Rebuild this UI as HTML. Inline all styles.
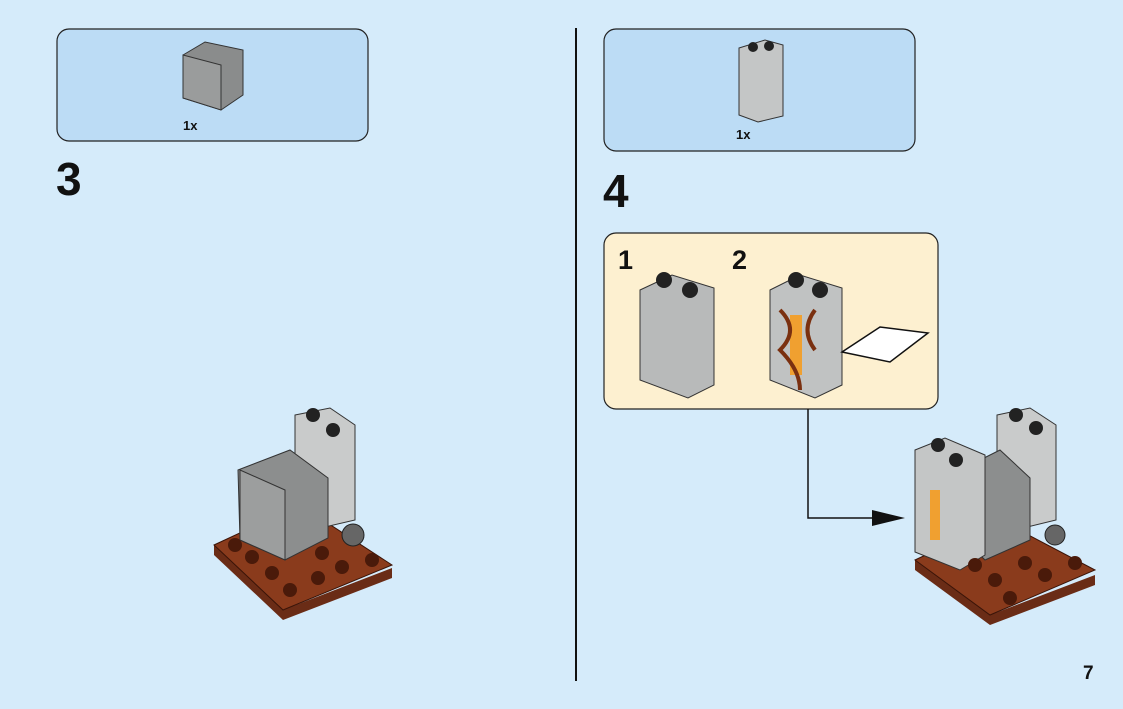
<!DOCTYPE html>
<html><head><meta charset="utf-8"><style>
html,body{margin:0;padding:0;width:1123px;height:709px;overflow:hidden;background:#d5ebfa;font-family:"Liberation Sans",sans-serif}
.t{position:absolute;font-weight:bold;color:#111}
</style></head><body>
<svg width="1123" height="709" style="position:absolute;left:0;top:0">
<rect x="57" y="29" width="311" height="112" rx="12" fill="#bcdcf5" stroke="#222" stroke-width="1.2"/>
<rect x="604" y="29" width="311" height="122" rx="12" fill="#bcdcf5" stroke="#222" stroke-width="1.2"/>
<rect x="604" y="233" width="334" height="176" rx="12" fill="#fdf0d0" stroke="#222" stroke-width="1.2"/>
<line x1="576" y1="28" x2="576" y2="681" stroke="#111" stroke-width="2"/>
<polyline points="808,409 808,518 890,518" fill="none" stroke="#111" stroke-width="1.5"/>
<polygon points="905,518 872,510 872,526" fill="#111"/>
<!-- part icon 1 -->
<polygon points="183,55 205,42 243,50 243,95 221,110 183,98" fill="#8a8c8c" stroke="#333"/>
<polygon points="183,55 221,65 221,110 183,98" fill="#9a9c9c" stroke="#333"/>
<!-- part icon 2 -->
<polygon points="739,48 765,40 783,45 783,116 758,122 739,115" fill="#c4c6c6" stroke="#333"/>
<circle cx="753" cy="47" r="5" fill="#222"/><circle cx="769" cy="46" r="5" fill="#222"/>
<!-- step3 model -->
<polygon points="214,545 283,610 392,568 392,578 283,620 214,555" fill="#6a2c16"/>
<polygon points="214,545 300,505 392,565 283,610" fill="#8a3b1c" stroke="#3a1408"/>
<polygon points="295,415 330,408 355,425 355,520 312,530 295,520" fill="#c9cbcb" stroke="#333"/>
<circle cx="313" cy="415" r="7" fill="#222"/><circle cx="333" cy="430" r="7" fill="#222"/>
<polygon points="238,470 290,450 328,478 328,538 285,560 240,540" fill="#8c8e8e" stroke="#333"/>
<polygon points="240,470 285,490 285,560 240,540" fill="#9c9e9e" stroke="#333"/>
<circle cx="353" cy="535" r="11" fill="#666" stroke="#222"/>
<g fill="#4a1a0a"><circle cx="235" cy="545" r="7"/><circle cx="252" cy="557" r="7"/><circle cx="272" cy="573" r="7"/><circle cx="290" cy="590" r="7"/><circle cx="322" cy="553" r="7"/><circle cx="342" cy="567" r="7"/><circle cx="372" cy="560" r="7"/><circle cx="318" cy="578" r="7"/></g>
<!-- sub step 1 -->
<polygon points="640,290 672,275 714,288 714,385 688,398 640,380" fill="#b8baba" stroke="#333"/>
<circle cx="664" cy="280" r="8" fill="#222"/><circle cx="690" cy="290" r="8" fill="#222"/>
<!-- sub step 2 -->
<polygon points="770,290 800,275 842,288 842,385 815,398 770,380" fill="#c0c2c2" stroke="#333"/>
<circle cx="796" cy="280" r="8" fill="#222"/><circle cx="820" cy="290" r="8" fill="#222"/>
<rect x="790" y="315" width="12" height="60" fill="#f0a030"/>
<path d="M780 310 q20 20 0 40 q20 20 20 40 M815 310 q-15 20 0 40" stroke="#7a3010" stroke-width="4" fill="none"/>
<polygon points="842,352 880,327 928,333 890,362" fill="#fff" stroke="#111" stroke-width="1.5"/>
<!-- step4 model -->
<polygon points="915,560 990,615 1095,575 1095,585 990,625 915,570" fill="#6a2c16"/>
<polygon points="915,560 1000,520 1095,570 990,615" fill="#8a3b1c" stroke="#3a1408"/>
<polygon points="997,415 1030,408 1056,425 1056,520 1015,530 997,520" fill="#c9cbcb" stroke="#333"/>
<polygon points="970,465 1000,450 1030,478 1030,540 985,560 970,545" fill="#8c8e8e" stroke="#333"/>
<polygon points="915,450 945,438 985,455 985,555 960,570 915,552" fill="#c4c6c6" stroke="#333"/>
<rect x="930" y="490" width="10" height="50" fill="#f0a030"/>
<circle cx="938" cy="445" r="7" fill="#222"/><circle cx="956" cy="460" r="7" fill="#222"/>
<circle cx="1016" cy="415" r="7" fill="#222"/><circle cx="1036" cy="428" r="7" fill="#222"/>
<circle cx="1055" cy="535" r="10" fill="#666" stroke="#222"/>
<g fill="#4a1a0a"><circle cx="975" cy="565" r="7"/><circle cx="995" cy="580" r="7"/><circle cx="1025" cy="563" r="7"/><circle cx="1045" cy="575" r="7"/><circle cx="1075" cy="563" r="7"/><circle cx="1010" cy="598" r="7"/></g>
</svg>
<div class="t" style="left:183px;top:118px;font-size:13px">1x</div>
<div class="t" style="left:736px;top:127px;font-size:13px">1x</div>
<div class="t" style="left:56px;top:152px;font-size:46px">3</div>
<div class="t" style="left:603px;top:164px;font-size:46px">4</div>
<div class="t" style="left:618px;top:245px;font-size:27px">1</div>
<div class="t" style="left:732px;top:245px;font-size:27px">2</div>
<div class="t" style="left:1083px;top:663px;font-size:19px">7</div>
</body></html>
